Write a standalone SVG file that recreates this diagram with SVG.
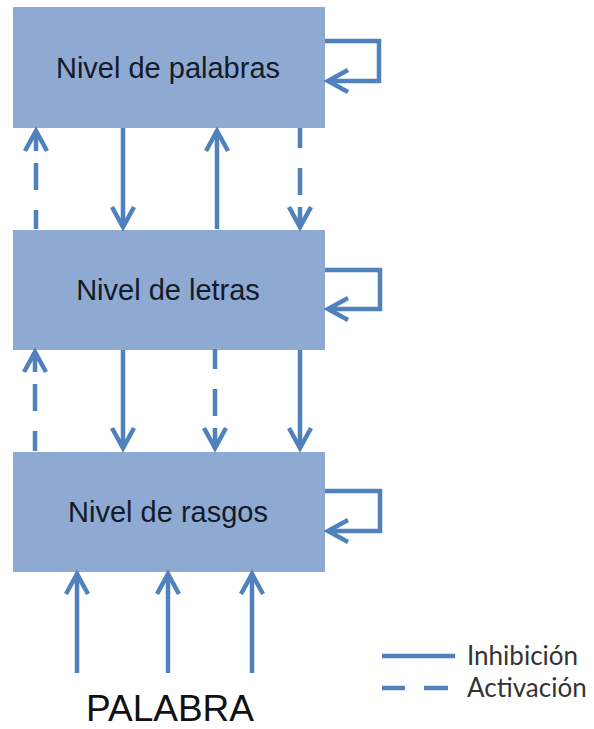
<svg xmlns="http://www.w3.org/2000/svg" width="594" height="729" viewBox="0 0 594 729">
<style>
.box{fill:#8eaad2;}
.lbl{font-family:"Liberation Sans",Arial,sans-serif;font-size:29px;fill:#151a28;text-anchor:middle;}
.c{fill:none;stroke:#4f81bd;stroke-width:4.5;}
.d{stroke-dasharray:20 12 27 20;}
.leg{font-family:Lato,"Liberation Sans",sans-serif;font-size:26px;fill:#333333;}
</style>
<defs>
<marker id="ah" markerUnits="userSpaceOnUse" markerWidth="30" markerHeight="30" viewBox="-24 -15 30 30" refX="0" refY="0" orient="auto-start-reverse" overflow="visible">
<path d="M-20,-11 L0,0 L-20,11" fill="none" stroke="#4f81bd" stroke-width="4.5" stroke-dasharray="none"/>
</marker>
</defs>
<rect width="594" height="729" fill="#ffffff"/>
<g id="nivel-palabras"><rect class="box" x="13" y="7" width="312" height="121"/><text class="lbl" x="168" y="78">Nivel de palabras</text></g>
<g id="nivel-letras"><rect class="box" x="13" y="230" width="312" height="120"/><text class="lbl" x="168" y="300">Nivel de letras</text></g>
<g id="nivel-rasgos"><rect class="box" x="13" y="452" width="312" height="120"/><text class="lbl" x="168" y="522">Nivel de rasgos</text></g>
<g id="palabra"><text x="170" y="721" font-family="Liberation Sans, Arial, sans-serif" font-size="37" fill="#111" text-anchor="middle">PALABRA</text></g>
<g id="connectors">
<path class="c" d="M325,41 H379 V81 H328" marker-end="url(#ah)"/>
<path class="c" d="M325,270 H380 V309 H328" marker-end="url(#ah)"/>
<path class="c" d="M325,491 H380 V531 H328" marker-end="url(#ah)"/>
<path class="c d" d="M36,131 V229" marker-start="url(#ah)"/>
<path class="c" d="M123,128 V227" marker-end="url(#ah)"/>
<path class="c" d="M217,229 V131" marker-end="url(#ah)"/>
<path class="c d" d="M300,227 V126" marker-start="url(#ah)"/>
<path class="c d" d="M35,352 V451" marker-start="url(#ah)"/>
<path class="c" d="M123,350 V448" marker-end="url(#ah)"/>
<path class="c d" d="M215,448 V348" marker-start="url(#ah)"/>
<path class="c" d="M300,350 V448" marker-end="url(#ah)"/>
<path class="c" d="M77,673 V574" marker-end="url(#ah)"/>
<path class="c" d="M168,673 V574" marker-end="url(#ah)"/>
<path class="c" d="M252,673 V574" marker-end="url(#ah)"/>
</g>
<g id="legend">
<line class="c" x1="382" y1="656" x2="455" y2="656"/>
<line class="c" x1="382" y1="688" x2="405" y2="688"/>
<line class="c" x1="424" y1="688" x2="448" y2="688"/>
<text class="leg" x="467" y="665">Inhibición</text>
<text class="leg" x="467" y="697">Activación</text>
</g>
</svg>
